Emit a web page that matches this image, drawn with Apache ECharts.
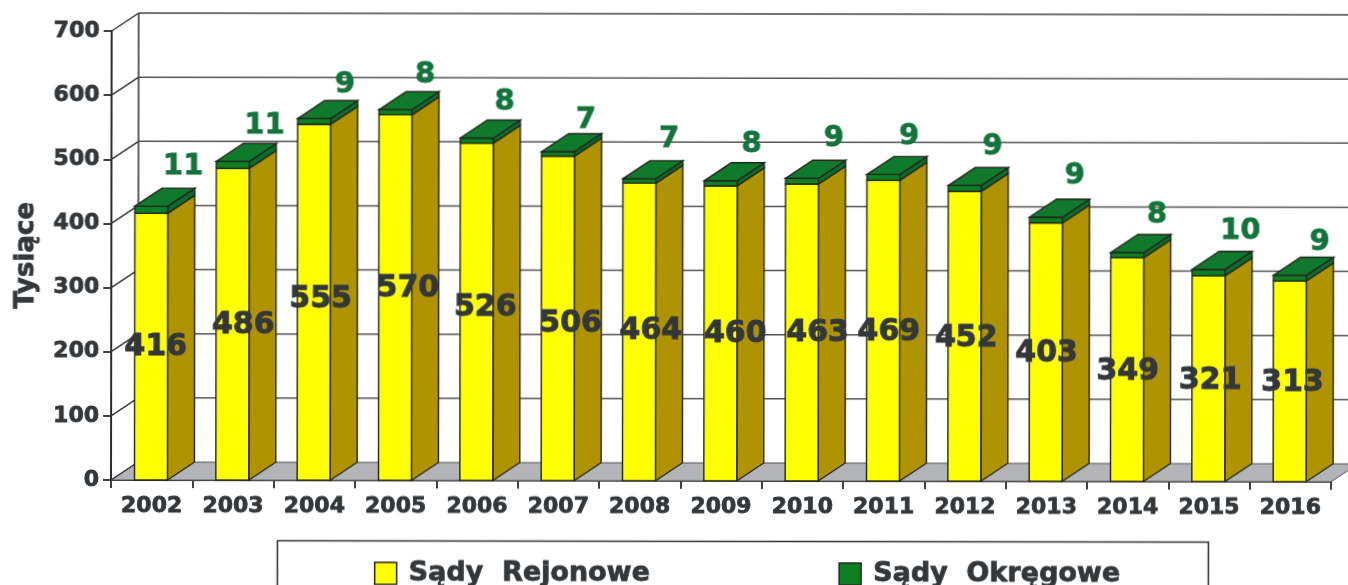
<!DOCTYPE html>
<html>
<head>
<meta charset="utf-8">
<style>html,body{margin:0;padding:0;background:#fff;overflow:hidden}#c{width:1348px;height:585px;transform-origin:111px 480px;transform:rotate(0.085deg)}</style>
<script src="https://cdn.jsdelivr.net/npm/echarts@6/dist/echarts.min.js"></script>
</head>
<body>
<div id="c"></div>
<script>
const years = ['2002','2003','2004','2005','2006','2007','2008','2009','2010','2011','2012','2013','2014','2015','2016'];
const rejonowe = [416,486,555,570,526,506,464,460,463,469,452,403,349,321,313];
const okregowe = [11,11,9,8,8,7,7,8,9,9,9,9,8,10,9];
const ticks = [0,100,200,300,400,500,600,700];

// Layout of the pseudo-3D look (pixels), kept apart from the data.
const DX = 27, DY = -18;
const labelNudgeX = [4,10,6,12,8,12,11,14,15,5,1,0,0,1,2];
const labelNudgeY = [1,1,-3,-9,-4,5,-1,1,1,2,2,1,2,2,2];
const topNudgeX = [31,31,30,29,27,27,29,30,31,25,27,28,29,31,29];
const topGapY = [22,18,16,17,18,13,21,18,22,20,21,23,20,20,15];

const FONT = '"DejaVu Sans"';
const INK = '#33373a', EDGE = '#23261f';
const NAME_A = 'Sądy  Rejonowe', NAME_B = 'Sądy  Okręgowe';

function poly(points, fill, stroke, lw) {
  return {type:'polygon', shape:{points}, style:{fill, stroke:stroke||EDGE, lineWidth:lw==null?1.4:lw}};
}
function line(x1,y1,x2,y2,stroke,lw){
  return {type:'line', shape:{x1,y1,x2,y2}, style:{stroke, lineWidth:lw}};
}

function renderWall(params, api) {
  const v = api.value(0);
  const cs = params.coordSys;
  const y = api.coord([0, v])[1];
  const x0 = cs.x, x1 = cs.x + cs.width;
  const kids = [];
  if (v === 0) {
    kids.push(poly([[x0,y],[x0+DX,y+DY],[x1+DX,y+DY],[x1,y]], '#b3b4b7', '#555', 1));
    kids.push(line(x0+DX,cs.y+DY,x0+DX,y+DY,'#3a3a3a',1.6));
  } else {
    kids.push(line(x0+DX,y+DY,x1+DX,y+DY, v===700?'#444':'#555',1.5));
  }
  kids.push(line(x0,y,x0+DX,y+DY,'#3a3a3a',1.5));
  return {type:'group', children:kids};
}

function renderYellow(params, api) {
  const i = api.value(0), v = api.value(1);
  const cx = api.coord([i, 0])[0] - 0.7;
  const y0 = api.coord([i, 0])[1];
  const y1 = api.coord([i, v])[1];
  const w = api.size([1,0])[0] * 0.405;
  const l = cx - w/2, r = cx + w/2;
  return {type:'group', children:[
    poly([[r,y0],[r+DX,y0+DY],[r+DX,y1+DY],[r,y1]], '#b09300'),
    poly([[l,y0],[r,y0],[r,y1],[l,y1]], '#ffff00')
  ]};
}

function renderGreen(params, api) {
  const i = api.value(0), g = api.value(1), v = rejonowe[i];
  const cx = api.coord([i, 0])[0] - 0.7;
  const y1 = api.coord([i, v])[1];
  const y2 = api.coord([i, v + g])[1];
  const w = api.size([1,0])[0] * 0.405;
  const l = cx - w/2, r = cx + w/2;
  return {type:'group', children:[
    poly([[r,y1],[r+DX,y1+DY],[r+DX,y2+DY],[r,y2]], '#0e6b2e'),
    poly([[l,y1],[r,y1],[r,y2],[l,y2]], '#0b8022'),
    poly([[l,y2],[r,y2],[r+DX,y2+DY],[l+DX,y2+DY]], '#0f7a2c')
  ]};
}

function renderLabels(params, api) {
  const i = api.value(0), v = api.value(1), g = okregowe[i];
  const center = api.coord([i, v/2]);
  const top = api.coord([i, v+g]);
  return {type:'group', children:[
    {type:'text', style:{text:String(v), x:center[0]+labelNudgeX[i], y:center[1]+labelNudgeY[i],
      fontFamily:FONT, fontWeight:'bold', fontSize:30, fill:INK, stroke:INK, lineWidth:1, align:'center', verticalAlign:'middle'}},
    {type:'text', style:{text:String(g), x:top[0]+topNudgeX[i], y:top[1]+DY-topGapY[i],
      fontFamily:FONT, fontWeight:'bold', fontSize:29, fill:'#12743a', stroke:'#12743a', lineWidth:0.8, align:'center', verticalAlign:'middle'}}
  ]};
}

const heavy = {textBorderColor:INK, textBorderWidth:0.8};
const chart = echarts.init(document.getElementById('c'), null, {renderer:'canvas'});
chart.setOption({
  animation:false,
  backgroundColor:'#ffffff',
  grid:{left:111, right:17, top:31, bottom:105, containLabel:false},
  xAxis:{type:'category', data:years, boundaryGap:true,
    axisLine:{lineStyle:{color:'#2c2c2c', width:2}},
    axisTick:{show:true, alignWithLabel:false, length:8, lineStyle:{color:'#2c2c2c', width:1.8}},
    axisLabel:Object.assign({interval:0, margin:15, color:INK, fontFamily:FONT, fontWeight:'bold', fontSize:22}, heavy)},
  yAxis:{type:'value', min:0, max:700, interval:100,
    name:'Tysiące', nameLocation:'middle', nameRotate:90, nameGap:72,
    nameTextStyle:Object.assign({color:INK, fontFamily:FONT, fontWeight:'bold', fontSize:26}, heavy),
    axisLine:{show:true, lineStyle:{color:'#2c2c2c', width:2}},
    axisTick:{show:true, length:8, lineStyle:{color:'#2c2c2c', width:1.8}},
    axisLabel:Object.assign({margin:12, color:INK, fontFamily:FONT, fontWeight:'bold', fontSize:22, formatter:(v)=>ticks.includes(v)?String(v):''}, heavy),
    splitLine:{show:false}},
  legend:{data:[
      {name:NAME_A, icon:'rect', itemStyle:{color:'#ffff00', borderColor:EDGE, borderWidth:1.5}},
      {name:NAME_B, icon:'rect', itemStyle:{color:'#0b8022', borderColor:EDGE, borderWidth:1.5}}],
    left:374, top:559, itemWidth:22, itemHeight:22, itemGap:188, padding:0, selectedMode:false,
    textStyle:Object.assign({color:INK, fontFamily:FONT, fontWeight:'bold', fontSize:27, padding:[4,0,0,7]}, heavy)},
  graphic:[{type:'rect', silent:true, z:-1, shape:{x:277.5,y:540.5,width:931,height:80}, style:{fill:'#fff', stroke:'#333', lineWidth:1.6}}],
  series:[
    {type:'custom', name:'wall', coordinateSystem:'cartesian2d', data:ticks.map(v=>[v]), renderItem:renderWall, clip:false, silent:true, z:1, encode:{y:0}},
    {type:'custom', name:NAME_A, coordinateSystem:'cartesian2d', data:rejonowe.map((v,i)=>[i,v]), renderItem:renderYellow, clip:false, z:2, itemStyle:{color:'#ffff00'}, encode:{x:0,y:1}},
    {type:'custom', name:NAME_B, coordinateSystem:'cartesian2d', data:okregowe.map((v,i)=>[i,v]), renderItem:renderGreen, clip:false, z:3, itemStyle:{color:'#0b8022'}, encode:{x:0,y:1}},
    {type:'custom', name:'labels', coordinateSystem:'cartesian2d', data:rejonowe.map((v,i)=>[i,v]), renderItem:renderLabels, clip:false, silent:true, z:4, encode:{x:0,y:1}}
  ]
});
</script>
</body>
</html>
